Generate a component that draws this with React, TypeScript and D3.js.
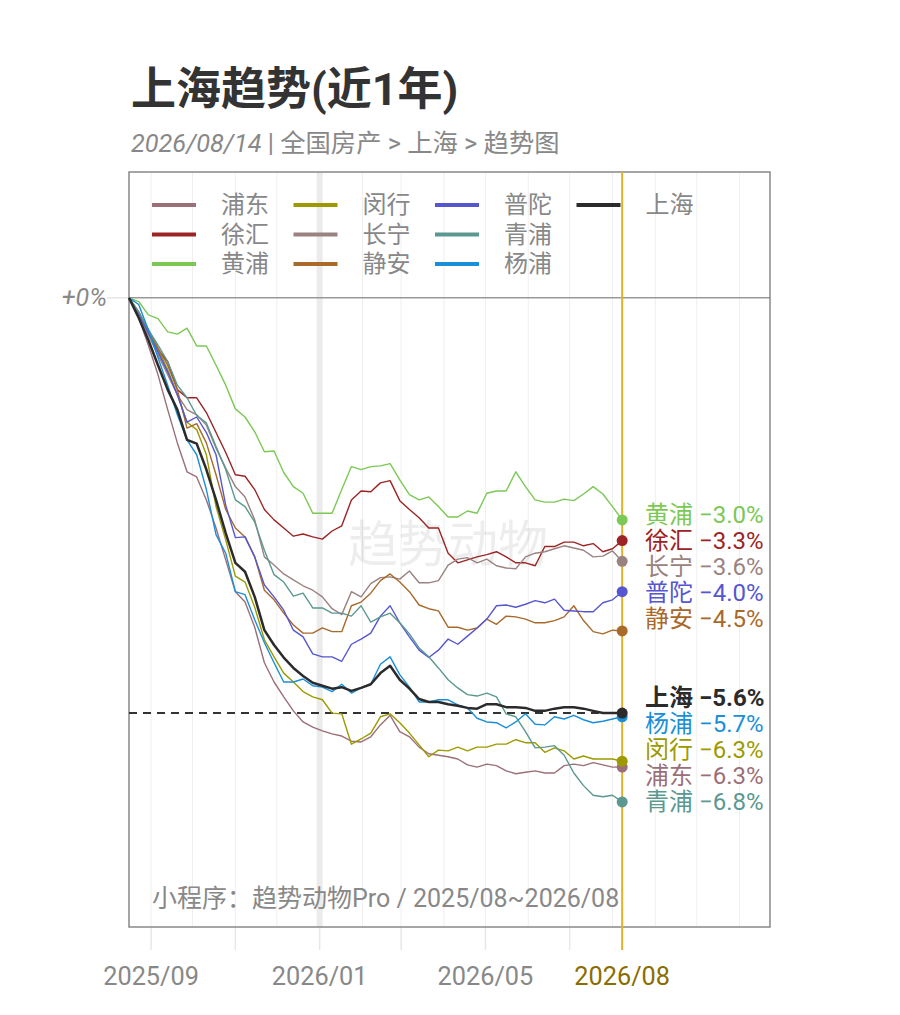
import { useEffect, useRef } from "react";
import * as d3 from "d3";

// 区县名称与颜色
const districts = ["浦东", "徐汇", "黄浦", "闵行", "长宁", "静安", "普陀", "青浦", "杨浦", "上海"];
const colors = ["#9b6f78", "#9c2424", "#7cc855", "#9c9a00", "#9a8280", "#a8692a", "#5656d0", "#5a9890", "#1a8fd8", "#2b2b2b"];

// 每周涨跌幅 (%)，自 2025/08/16 起
const pudong = [0, -0.27, -0.64, -1.04, -1.51, -1.96, -2.35, -2.42, -2.73, -3.11, -3.54, -3.97, -4.11, -4.45, -4.93, -5.19, -5.39, -5.58, -5.73, -5.80, -5.85, -5.89, -5.92, -5.99, -6.0, -5.93, -5.77, -5.64, -5.86, -5.93, -6.07, -6.16, -6.18, -6.20, -6.23, -6.31, -6.34, -6.30, -6.32, -6.39, -6.43, -6.41, -6.39, -6.42, -6.42, -6.32, -6.30, -6.32, -6.28, -6.31, -6.34, -6.34];
const xuhui = [0, -0.20, -0.46, -0.70, -0.86, -1.24, -1.35, -1.35, -1.55, -1.82, -2.09, -2.39, -2.41, -2.59, -2.86, -3.0, -3.11, -3.22, -3.19, -3.23, -3.26, -3.15, -3.08, -2.73, -2.61, -2.62, -2.50, -2.47, -2.74, -2.86, -2.97, -3.11, -3.11, -3.45, -3.58, -3.54, -3.50, -3.47, -3.43, -3.50, -3.58, -3.58, -3.62, -3.36, -3.36, -3.30, -3.30, -3.35, -3.32, -3.43, -3.39, -3.28];
const huangpu = [0, -0.05, -0.23, -0.28, -0.46, -0.49, -0.41, -0.65, -0.65, -0.91, -1.18, -1.50, -1.61, -1.81, -2.08, -2.07, -2.36, -2.55, -2.64, -2.91, -2.91, -2.91, -2.59, -2.28, -2.32, -2.28, -2.27, -2.24, -2.46, -2.66, -2.73, -2.69, -2.82, -2.96, -2.96, -2.88, -2.91, -2.64, -2.61, -2.61, -2.35, -2.55, -2.73, -2.76, -2.76, -2.72, -2.74, -2.65, -2.55, -2.65, -2.82, -3.0];
const minhang = [0, -0.19, -0.46, -0.70, -0.97, -1.31, -1.68, -1.78, -2.12, -2.82, -3.27, -3.76, -3.84, -4.18, -4.62, -4.85, -5.07, -5.19, -5.32, -5.39, -5.43, -5.61, -5.62, -6.03, -5.96, -5.88, -5.66, -5.62, -5.74, -5.88, -6.04, -6.20, -6.11, -6.12, -6.07, -6.12, -6.07, -6.07, -6.03, -6.03, -5.97, -6.01, -6.01, -6.14, -6.08, -6.12, -6.23, -6.19, -6.23, -6.23, -6.23, -6.26];
const changning = [0, -0.22, -0.50, -0.77, -1.04, -1.31, -1.51, -1.58, -1.72, -2.03, -2.30, -2.55, -2.69, -3.0, -3.50, -3.61, -3.73, -3.81, -3.89, -3.95, -4.04, -4.20, -4.28, -3.97, -4.04, -3.86, -3.78, -3.77, -3.80, -3.69, -3.85, -3.85, -3.82, -3.61, -3.53, -3.51, -3.58, -3.53, -3.62, -3.65, -3.66, -3.50, -3.45, -3.43, -3.39, -3.35, -3.38, -3.41, -3.50, -3.49, -3.42, -3.56];
const jingan = [0, -0.19, -0.43, -0.68, -0.91, -1.24, -1.76, -1.70, -1.96, -2.39, -2.86, -3.11, -3.23, -3.50, -3.95, -4.08, -4.26, -4.42, -4.53, -4.53, -4.46, -4.51, -4.51, -4.16, -4.11, -3.99, -3.82, -3.73, -3.84, -3.97, -4.15, -4.20, -4.23, -4.45, -4.45, -4.49, -4.46, -4.34, -4.41, -4.30, -4.31, -4.34, -4.39, -4.39, -4.36, -4.31, -4.16, -4.36, -4.51, -4.54, -4.49, -4.50];
const putuo = [0, -0.22, -0.47, -0.73, -1.0, -1.31, -1.68, -1.61, -1.82, -2.12, -2.80, -3.24, -3.23, -3.50, -3.88, -4.04, -4.22, -4.49, -4.58, -4.81, -4.85, -4.85, -4.91, -4.68, -4.61, -4.53, -4.30, -4.16, -4.39, -4.58, -4.76, -4.86, -4.76, -4.61, -4.68, -4.57, -4.46, -4.34, -4.16, -4.15, -4.18, -4.14, -4.09, -4.12, -4.07, -4.22, -4.23, -4.24, -4.24, -4.12, -4.08, -3.97];
const qingpu = [0, -0.19, -0.43, -0.64, -0.86, -1.18, -1.35, -1.59, -1.69, -2.01, -2.32, -2.73, -2.82, -3.03, -3.41, -3.74, -3.84, -4.03, -3.99, -4.19, -4.19, -4.26, -4.26, -4.30, -4.16, -4.38, -4.31, -4.26, -4.39, -4.54, -4.73, -4.85, -5.0, -5.16, -5.27, -5.36, -5.38, -5.34, -5.39, -5.62, -5.66, -5.86, -6.08, -6.07, -6.05, -6.18, -6.42, -6.59, -6.72, -6.74, -6.72, -6.81];
const yangpu = [0, -0.09, -0.43, -0.81, -1.18, -1.58, -1.92, -2.12, -2.59, -3.20, -3.45, -3.97, -4.01, -4.35, -4.66, -4.93, -5.19, -5.19, -5.15, -5.24, -5.26, -5.32, -5.22, -5.34, -5.27, -5.22, -4.95, -4.85, -5.09, -5.26, -5.46, -5.46, -5.43, -5.43, -5.50, -5.54, -5.68, -5.73, -5.74, -5.81, -5.73, -5.62, -5.76, -5.77, -5.66, -5.69, -5.64, -5.70, -5.74, -5.72, -5.69, -5.66];
const shanghai = [0, -0.27, -0.57, -0.91, -1.24, -1.51, -1.92, -1.97, -2.32, -2.73, -3.18, -3.58, -3.70, -4.04, -4.49, -4.69, -4.86, -5.0, -5.11, -5.20, -5.24, -5.28, -5.26, -5.31, -5.27, -5.22, -5.07, -4.97, -5.16, -5.28, -5.42, -5.46, -5.46, -5.49, -5.51, -5.54, -5.55, -5.49, -5.49, -5.53, -5.53, -5.54, -5.58, -5.58, -5.55, -5.53, -5.53, -5.55, -5.58, -5.61, -5.61, -5.61];

const seriesValues = [pudong, xuhui, huangpu, minhang, changning, jingan, putuo, qingpu, yangpu, shanghai];

const tickLabels = ["2025/09", "2026/01", "2026/05"];
const endLabel = "2026/08";

const startDate = new Date(2025, 7, 16);
const domainEnd = new Date(2026, 10, 23);
const dates = shanghai.map((_, i) => d3.timeDay.offset(startDate, i * 7));

const FONT = "Roboto, 'Noto Sans CJK SC', sans-serif";

export default function App() {
  const ref = useRef(null);

  useEffect(() => {
    const svg = d3.select(ref.current);
    svg.selectAll("*").remove();

    const left = 129, right = 770, top = 172, bottom = 927;
    const x = d3.scaleTime().domain([startDate, domainEnd]).range([left, right]);
    const y = d3.scaleLinear().domain([-8.5, 1.7]).range([bottom, top]);
    const lastDate = dates[dates.length - 1];
    const xEnd = x(lastDate);

    // 标题
    svg.append("text")
      .attr("x", 131).attr("y", 105)
      .attr("font-size", 45).attr("font-weight", "bold").attr("fill", "#333")
      .text("上海趋势(近1年)");
    const sub = svg.append("text")
      .attr("x", 131).attr("y", 152)
      .attr("font-size", 25.3).attr("fill", "#888");
    sub.append("tspan").attr("font-style", "italic").text("2026/08/14");
    sub.append("tspan").text(" | 全国房产 > 上海 > 趋势图");

    // 网格
    const months = d3.timeMonth.range(new Date(2025, 8, 1), new Date(2026, 11, 1));
    svg.append("g").selectAll("line").data(months).join("line")
      .attr("x1", d => x(d)).attr("x2", d => x(d))
      .attr("y1", top).attr("y2", bottom)
      .attr("stroke", "#efefef").attr("stroke-width", 1);
    svg.append("g").selectAll("line")
      .data(months.filter(d => d <= lastDate && d.getMonth() % 2 === 0)).join("line")
      .attr("x1", d => x(d)).attr("x2", d => x(d))
      .attr("y1", bottom).attr("y2", bottom + 23)
      .attr("stroke", "#e8e8e8").attr("stroke-width", 1.5);

    // 新年
    svg.append("line")
      .attr("x1", x(new Date(2026, 0, 1))).attr("x2", x(new Date(2026, 0, 1)))
      .attr("y1", top).attr("y2", bottom)
      .attr("stroke", "#ebebeb").attr("stroke-width", 6);

    // 水印
    svg.append("text")
      .attr("x", 448).attr("y", 545)
      .attr("text-anchor", "middle").attr("dominant-baseline", "central")
      .attr("font-size", 50).attr("fill", "#000").attr("fill-opacity", 0.07)
      .text("趋势动物");

    // 0线
    svg.append("line")
      .attr("x1", 107).attr("x2", left)
      .attr("y1", y(0)).attr("y2", y(0))
      .attr("stroke", "#e6e6e6").attr("stroke-width", 1.5);
    svg.append("line")
      .attr("x1", left).attr("x2", right)
      .attr("y1", y(0)).attr("y2", y(0))
      .attr("stroke", "#999").attr("stroke-width", 1.5);
    svg.append("text")
      .attr("x", 107).attr("y", y(0))
      .attr("text-anchor", "end").attr("dominant-baseline", "central")
      .attr("font-size", 25).attr("font-style", "italic").attr("fill", "#888")
      .text("+0%");

    // 框
    svg.append("rect")
      .attr("x", left).attr("y", top)
      .attr("width", right - left).attr("height", bottom - top)
      .attr("fill", "none").attr("stroke", "#888").attr("stroke-width", 1.5);

    // 当前日期线
    svg.append("line")
      .attr("x1", xEnd).attr("x2", xEnd)
      .attr("y1", top).attr("y2", bottom + 23)
      .attr("stroke", "#dfb22a").attr("stroke-width", 2);

    // 上海参考虚线
    const shLast = shanghai[shanghai.length - 1];
    svg.append("line")
      .attr("x1", left).attr("x2", xEnd)
      .attr("y1", y(shLast)).attr("y2", y(shLast))
      .attr("stroke", "#333").attr("stroke-width", 2).attr("stroke-dasharray", "8,6");

    // 折线
    const line = d3.line<number>()
      .x((_, i) => x(dates[i]))
      .y(d => y(d));
    svg.append("g").selectAll("path").data(seriesValues).join("path")
      .attr("d", d => line(d))
      .attr("fill", "none")
      .attr("stroke", (_, i) => colors[i])
      .attr("stroke-width", (_, i) => (districts[i] === "上海" ? 2.5 : 1.4))
      .attr("stroke-linejoin", "round");

    // 端点
    svg.append("g").selectAll("circle").data(seriesValues).join("circle")
      .attr("cx", xEnd)
      .attr("cy", d => y(d[d.length - 1]))
      .attr("r", 5.5)
      .attr("fill", (_, i) => colors[i]);

    // 标签避让
    const gap = 26, mergeDist = 40;
    const items = seriesValues.map((d, i) => ({ i, y: y(d[d.length - 1]) }))
      .sort((a, b) => a.y - b.y);
    let groups = items.map(d => ({ members: [d], c: d.y }));
    let merged = true;
    while (merged) {
      merged = false;
      for (let k = 0; k < groups.length - 1; k++) {
        const a = groups[k], b = groups[k + 1];
        const aBot = a.c + (a.members.length - 1) * gap / 2;
        const bTop = b.c - (b.members.length - 1) * gap / 2;
        if (bTop - aBot < mergeDist) {
          const members = a.members.concat(b.members);
          groups.splice(k, 2, { members, c: d3.mean(members, m => m.y) });
          merged = true;
          break;
        }
      }
    }
    const fmt = d3.format(".1f");
    groups.forEach(g => {
      g.members.forEach((m, j) => {
        const ly = g.c + (j - (g.members.length - 1) / 2) * gap - 2;
        const vals = seriesValues[m.i];
        const isSh = districts[m.i] === "上海";
        svg.append("text")
          .attr("x", 645).attr("y", ly)
          .attr("dominant-baseline", "central")
          .attr("font-size", 24)
          .attr("font-weight", isSh ? "bold" : "normal")
          .attr("fill", colors[m.i])
          .text(`${districts[m.i]} ${fmt(vals[vals.length - 1])}%`);
      });
    });

    // 图例
    const legend = svg.append("g");
    districts.forEach((name, i) => {
      const col = Math.floor(i / 3), row = i % 3;
      const lx = 152 + col * 141.5, ly = 205 + row * 29.5;
      legend.append("line")
        .attr("x1", lx).attr("x2", lx + 44)
        .attr("y1", ly).attr("y2", ly)
        .attr("stroke", colors[i]).attr("stroke-width", 4);
      legend.append("text")
        .attr("x", lx + 69).attr("y", ly)
        .attr("dominant-baseline", "central")
        .attr("font-size", 24).attr("fill", "#888")
        .text(name);
    });

    // 出处
    svg.append("text")
      .attr("x", 152).attr("y", 898)
      .attr("dominant-baseline", "central")
      .attr("font-size", 25).attr("fill", "#888")
      .text("小程序：趋势动物Pro / 2025/08~2026/08");

    // X轴标签
    const parse = d3.timeParse("%Y/%m");
    svg.append("g").selectAll("text").data(tickLabels).join("text")
      .attr("x", d => x(parse(d)))
      .attr("y", 976)
      .attr("text-anchor", "middle").attr("dominant-baseline", "central")
      .attr("font-size", 25.3).attr("fill", "#888")
      .text(d => d);
    svg.append("text")
      .attr("x", xEnd).attr("y", 976)
      .attr("text-anchor", "middle").attr("dominant-baseline", "central")
      .attr("font-size", 25.3).attr("fill", "#8a6d00")
      .text(endLabel);
  }, []);

  return (
    <svg
      ref={ref}
      width={900}
      height={1015}
      style={{ position: "absolute", left: 0, top: 0, background: "#fff", fontFamily: FONT }}
    />
  );
}
